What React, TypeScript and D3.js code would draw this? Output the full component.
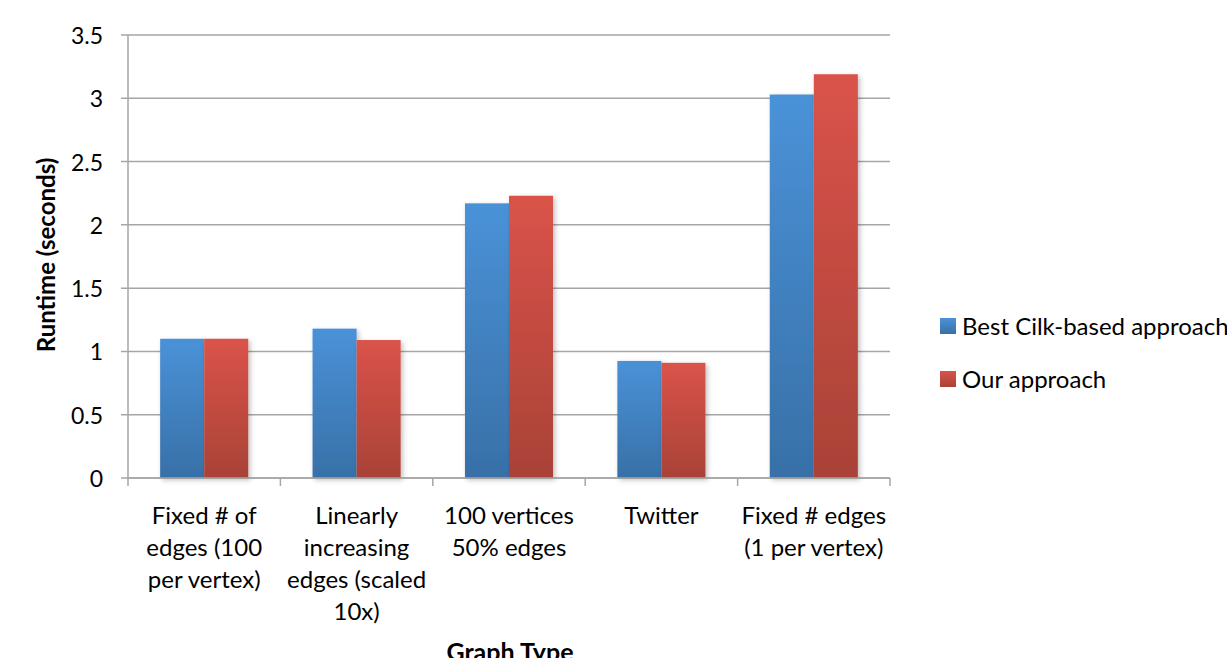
import React from 'react';
import * as d3 from 'd3';

// 类别与数据
const categories = [
  ['Fixed # of', 'edges (100', 'per vertex)'],
  ['Linearly', 'increasing', 'edges (scaled', '10x)'],
  ['100 vertices', '50% edges'],
  ['Twitter'],
  ['Fixed # edges', '(1 per vertex)'],
];
const seriesNames = ['Best Cilk-based approach', 'Our approach'];
const cilkValues = [1.1, 1.18, 2.17, 0.925, 3.03];
const ourValues = [1.1, 1.09, 2.23, 0.91, 3.19];
const yTicks = [0, 0.5, 1, 1.5, 2, 2.5, 3, 3.5];

const FONT = 'Lato, "Open Sans", sans-serif';

const App = () => {
  const width = 1227;
  const height = 658;
  const left = 128;
  const right = 890;
  const top = 35;
  const bottom = 478;

  const keys = categories.map((_, i) => String(i));
  const x0 = d3.scaleBand().domain(keys).range([left, right]).padding(0);
  const x1 = d3.scaleBand()
    .domain(['0', '1'])
    .range([0, x0.bandwidth()])
    .paddingInner(0)
    .paddingOuter(0.73);
  const y = d3.scaleLinear().domain([0, 3.5]).range([bottom, top]);

  const values = [cilkValues, ourValues];
  const grads = ['gradBlue', 'gradRed'];
  const gridColor = '#a6a6a6';

  return (
    <svg width={width} height={height} style={{ position: 'absolute', left: 0, top: 0 }}>
      <defs>
        <linearGradient id="gradBlue" x1="0" y1="0" x2="0" y2="1">
          <stop offset="0%" stopColor="#4a92d8" />
          <stop offset="100%" stopColor="#3870a7" />
        </linearGradient>
        <linearGradient id="gradRed" x1="0" y1="0" x2="0" y2="1">
          <stop offset="0%" stopColor="#da534a" />
          <stop offset="100%" stopColor="#a94237" />
        </linearGradient>
        <filter id="shadow" x="-20%" y="-5%" width="140%" height="115%">
          <feDropShadow dx="2" dy="2" stdDeviation="2.5" floodColor="#000" floodOpacity="0.25" />
        </filter>
      </defs>

      {/* 网格线 */}
      {yTicks.map(t => (
        <g key={t}>
          <line x1={left - 7} x2={right} y1={y(t)} y2={y(t)} stroke={gridColor} strokeWidth={1.5} />
          <text x={103} y={y(t) + 9} textAnchor="end" fontFamily={FONT} fontSize={23} fill="#000">
            {t}
          </text>
        </g>
      ))}

      {/* 柱子 */}
      {values.map((vals, s) => (
        <g key={s} filter="url(#shadow)">
          {vals.map((v, i) => (
            <rect
              key={i}
              x={(x0(String(i)) ?? 0) + (x1(String(s)) ?? 0)}
              y={y(v)}
              width={x1.bandwidth()}
              height={y(0) - y(v)}
              fill={`url(#${grads[s]})`}
            />
          ))}
        </g>
      ))}

      {/* 坐标轴 */}
      <line x1={left} x2={left} y1={top} y2={bottom + 1} stroke={gridColor} strokeWidth={1.5} />
      <line x1={left} x2={right} y1={bottom} y2={bottom} stroke={gridColor} strokeWidth={1.5} />
      {keys.concat(['end']).map((k, i) => {
        const xx = k === 'end' ? right : (x0(k) ?? 0);
        return <line key={i} x1={xx} x2={xx} y1={bottom} y2={bottom + 8} stroke={gridColor} strokeWidth={1.5} />;
      })}

      {/* x 轴标签 */}
      {categories.map((lines, i) => (
        <text
          key={i}
          textAnchor="middle"
          fontFamily={FONT}
          fontSize={24}
          fill="#000"
        >
          {lines.map((ln, j) => (
            <tspan key={j} x={(x0(String(i)) ?? 0) + x0.bandwidth() / 2} y={524 + j * 32}>
              {ln}
            </tspan>
          ))}
        </text>
      ))}

      {/* 轴标题 */}
      <text
        transform={`translate(55, 255) rotate(-90)`}
        textAnchor="middle"
        fontFamily={FONT}
        fontSize={24}
        fontWeight="bold"
        fill="#000"
      >
        Runtime (seconds)
      </text>
      <text x={510} y={661} textAnchor="middle" fontFamily={FONT} fontSize={25} fontWeight="bold" fill="#000">
        Graph Type
      </text>

      {/* 图例 */}
      {seriesNames.map((name, s) => (
        <g key={name} transform={`translate(940, ${318 + s * 53})`}>
          <rect width={16} height={16} fill={`url(#${grads[s]})`} />
          <text x={22} y={17} fontFamily={FONT} fontSize={24} fill="#000">
            {name}
          </text>
        </g>
      ))}
    </svg>
  );
};

export default App;
